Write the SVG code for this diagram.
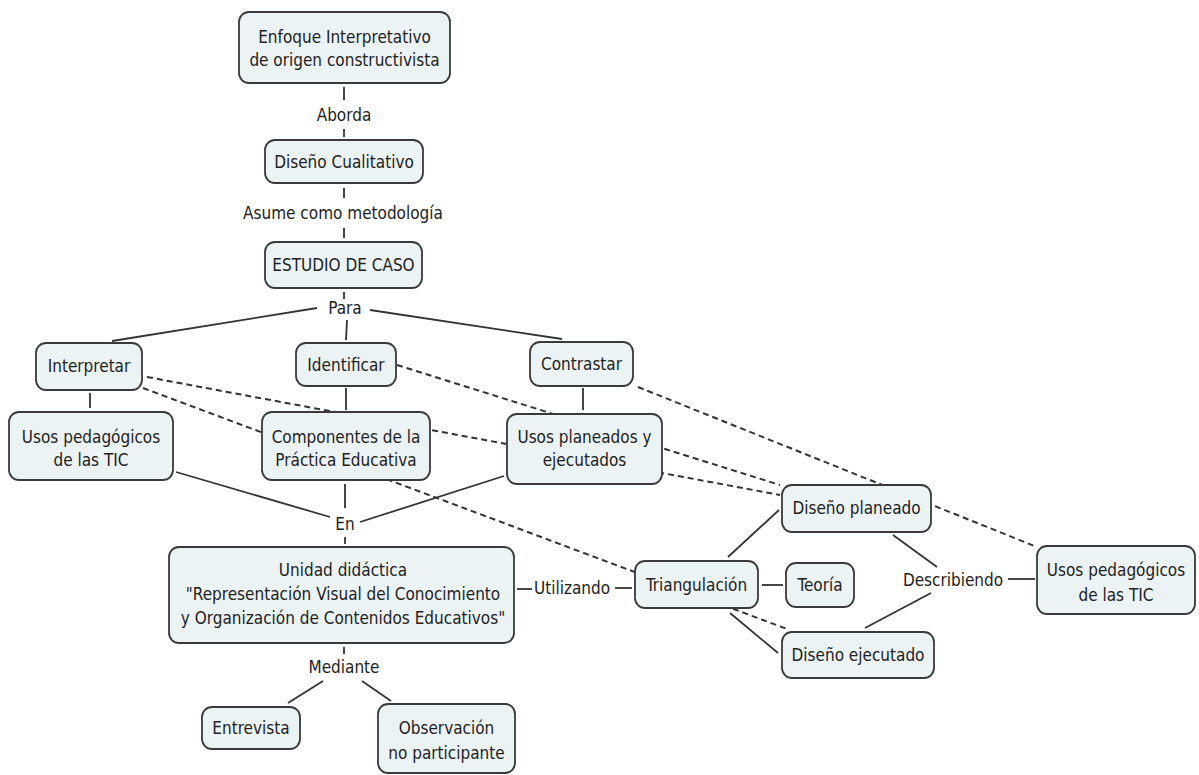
<svg xmlns="http://www.w3.org/2000/svg" width="1199" height="775" viewBox="0 0 1199 775">
<style>
.n rect{fill:#ECF3F5;stroke:#3a3a3a;stroke-width:1.8}
text{font-family:"DejaVu Sans Condensed","Liberation Sans",sans-serif;font-size:17px;fill:#222;text-anchor:middle;dominant-baseline:central}
.s{stroke:#333;stroke-width:1.8;fill:none}
.d{stroke:#333;stroke-width:2;fill:none;stroke-dasharray:6,4}
</style>
<rect width="1199" height="775" fill="#fff"/>
<g id="connectors">
<line class="d" x1="147" y1="377" x2="780" y2="495"/>
<line class="d" x1="143" y1="388" x2="787" y2="629"/>
<line class="d" x1="397" y1="365" x2="780" y2="485"/>
<line class="d" x1="638" y1="387" x2="1037" y2="547"/>
<line class="s" x1="344" y1="87" x2="344" y2="100"/>
<line class="s" x1="344" y1="129" x2="344" y2="137"/>
<line class="s" x1="344" y1="188" x2="344" y2="198"/>
<line class="s" x1="344" y1="228" x2="344" y2="238"/>
<line class="s" x1="344" y1="292" x2="344" y2="299"/>
<line class="s" x1="317" y1="308" x2="112" y2="341"/>
<line class="s" x1="347" y1="320" x2="346" y2="340"/>
<line class="s" x1="370" y1="310" x2="562" y2="339"/>
<line class="s" x1="90" y1="393" x2="90" y2="408"/>
<line class="s" x1="346" y1="388" x2="346" y2="410"/>
<line class="s" x1="583" y1="388" x2="583" y2="410"/>
<line class="s" x1="176" y1="472" x2="330" y2="517"/>
<line class="s" x1="345" y1="484" x2="345" y2="508"/>
<line class="s" x1="504" y1="476" x2="360" y2="522"/>
<line class="s" x1="345" y1="537" x2="345" y2="544"/>
<line class="s" x1="517" y1="589" x2="532" y2="589"/>
<line class="s" x1="615" y1="588" x2="632" y2="588"/>
<line class="s" x1="344" y1="647" x2="344" y2="654"/>
<line class="s" x1="323" y1="681" x2="288" y2="703"/>
<line class="s" x1="362" y1="681" x2="391" y2="701"/>
<line class="s" x1="762" y1="585" x2="783" y2="585"/>
<line class="s" x1="728" y1="557" x2="779" y2="510"/>
<line class="s" x1="730" y1="613" x2="778" y2="653"/>
<line class="s" x1="893" y1="535" x2="937" y2="567"/>
<line class="s" x1="931" y1="593" x2="865" y2="628"/>
<line class="s" x1="1008" y1="579" x2="1035" y2="579"/>
<text x="344" y="115">Aborda</text>
<text x="343" y="213">Asume como metodología</text>
<text x="345" y="308">Para</text>
<text x="345" y="524">En</text>
<text x="572" y="588">Utilizando</text>
<text x="344" y="667">Mediante</text>
<text x="953" y="580">Describiendo</text>
</g>
<g id="n1" class="n"><rect x="239" y="12" width="211" height="71" rx="10"/><text x="344.5" y="37">Enfoque Interpretativo</text><text x="344.5" y="60">de origen constructivista</text></g>
<g id="n2" class="n"><rect x="265" y="140" width="158" height="43" rx="10"/><text x="344" y="162">Diseño Cualitativo</text></g>
<g id="n3" class="n"><rect x="265" y="242" width="157" height="46" rx="10"/><text x="343.5" y="265">ESTUDIO DE CASO</text></g>
<g id="n4" class="n"><rect x="36" y="343" width="106" height="47" rx="10"/><text x="89" y="366">Interpretar</text></g>
<g id="n5" class="n"><rect x="296" y="343" width="100" height="43" rx="10"/><text x="346" y="365">Identificar</text></g>
<g id="n6" class="n"><rect x="530" y="342" width="103" height="44" rx="10"/><text x="581.5" y="364">Contrastar</text></g>
<g id="n7" class="n"><rect x="9" y="412" width="164" height="68" rx="10"/><text x="91" y="437">Usos pedagógicos</text><text x="91" y="460">de las TIC</text></g>
<g id="n8" class="n"><rect x="262" y="412" width="168" height="68" rx="10"/><text x="346" y="437">Componentes de la</text><text x="346" y="460">Práctica Educativa</text></g>
<g id="n9" class="n"><rect x="507" y="414" width="155" height="70" rx="10"/><text x="584.5" y="437">Usos planeados y</text><text x="584.5" y="460">ejecutados</text></g>
<g id="n10" class="n"><rect x="169" y="547" width="345" height="96" rx="10"/><text x="343" y="570">Unidad didáctica</text><text x="343" y="594">"Representación Visual del Conocimiento</text><text x="343" y="618">y Organización de Contenidos Educativos"</text></g>
<g id="n11" class="n"><rect x="202" y="707" width="98" height="42" rx="10"/><text x="251" y="728">Entrevista</text></g>
<g id="n12" class="n"><rect x="378" y="704" width="137" height="69" rx="10"/><text x="446.5" y="728">Observación</text><text x="446.5" y="753">no participante</text></g>
<g id="n13" class="n"><rect x="635" y="561" width="123" height="47" rx="10"/><text x="696.5" y="585">Triangulación</text></g>
<g id="n14" class="n"><rect x="786" y="563" width="68" height="44" rx="10"/><text x="820" y="585">Teoría</text></g>
<g id="n15" class="n"><rect x="782" y="485" width="149" height="47" rx="10"/><text x="856.5" y="508">Diseño planeado</text></g>
<g id="n16" class="n"><rect x="782" y="632" width="152" height="46" rx="10"/><text x="858" y="655">Diseño ejecutado</text></g>
<g id="n17" class="n"><rect x="1037" y="546" width="158" height="68" rx="10"/><text x="1116" y="570">Usos pedagógicos</text><text x="1116" y="595">de las TIC</text></g>
</svg>
